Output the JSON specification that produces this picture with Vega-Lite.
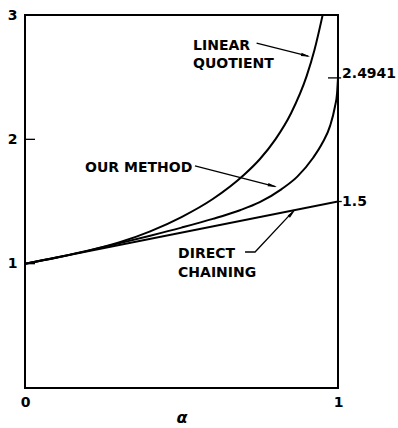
{
  "$schema": "https://vega.github.io/schema/vega-lite/v6.json",
  "autosize": "none",
  "width": 313,
  "height": 373,
  "padding": {"left": 25, "top": 15, "right": 60, "bottom": 40},
  "background": "white",
  "config": {
    "view": {"stroke": "black", "strokeWidth": 2},
    "axis": {"labelFont": "DejaVu Sans", "labelFontWeight": "bold", "labelFontSize": 14, "labelColor": "black", "titleColor": "black", "grid": false, "ticks": false, "domain": false}
  },
  "encoding": {
    "x": {"field": "a", "type": "quantitative", "scale": {"domain": [0, 1], "nice": false, "zero": false},
      "axis": {"values": [0, 1], "format": "d", "labelFlush": false, "labelPadding": 7, "title": "α", "titleFont": "DejaVu Sans", "titleFontStyle": "italic", "titleFontWeight": "bold", "titleFontSize": 16, "titlePadding": 0}},
    "y": {"field": "v", "type": "quantitative", "scale": {"domain": [0, 3], "nice": false},
      "axis": {"values": [1, 2, 3], "format": "d", "labelPadding": 8, "title": null}}
  },
  "layer": [
    {
      "data": {"values": [
        {"series": "LQ", "a": 0, "v": 1}, {"series": "LQ", "a": 0.1, "v": 1.048}, {"series": "LQ", "a": 0.2, "v": 1.103},
        {"series": "LQ", "a": 0.3, "v": 1.17}, {"series": "LQ", "a": 0.4, "v": 1.26}, {"series": "LQ", "a": 0.5, "v": 1.375},
        {"series": "LQ", "a": 0.6, "v": 1.52}, {"series": "LQ", "a": 0.7, "v": 1.715}, {"series": "LQ", "a": 0.75, "v": 1.84},
        {"series": "LQ", "a": 0.8, "v": 2.0}, {"series": "LQ", "a": 0.85, "v": 2.21}, {"series": "LQ", "a": 0.9, "v": 2.51},
        {"series": "LQ", "a": 0.925, "v": 2.72}, {"series": "LQ", "a": 0.951, "v": 3.0},
        {"series": "OM", "a": 0, "v": 1}, {"series": "OM", "a": 0.1, "v": 1.05}, {"series": "OM", "a": 0.2, "v": 1.105},
        {"series": "OM", "a": 0.3, "v": 1.163}, {"series": "OM", "a": 0.4, "v": 1.225}, {"series": "OM", "a": 0.5, "v": 1.29},
        {"series": "OM", "a": 0.6, "v": 1.36}, {"series": "OM", "a": 0.687, "v": 1.43}, {"series": "OM", "a": 0.75, "v": 1.495},
        {"series": "OM", "a": 0.82, "v": 1.6}, {"series": "OM", "a": 0.87, "v": 1.7}, {"series": "OM", "a": 0.92, "v": 1.85},
        {"series": "OM", "a": 0.95, "v": 1.97}, {"series": "OM", "a": 0.975, "v": 2.11}, {"series": "OM", "a": 0.99, "v": 2.26},
        {"series": "OM", "a": 0.997, "v": 2.37}, {"series": "OM", "a": 1.0, "v": 2.4941},
        {"series": "DC", "a": 0, "v": 1}, {"series": "DC", "a": 1, "v": 1.5}
      ]},
      "mark": {"type": "line", "color": "black", "strokeWidth": 2, "interpolate": "monotone", "clip": true},
      "encoding": {"detail": {"field": "series"}}
    },
    {
      "data": {"values": [
        {"id": "LQ", "o": 1, "a": 0.74, "v": 2.773}, {"id": "LQ", "o": 2, "a": 0.905, "v": 2.67},
        {"id": "OM", "o": 1, "a": 0.543, "v": 1.786}, {"id": "OM", "o": 2, "a": 0.8, "v": 1.62},
        {"id": "DC", "o": 1, "a": 0.703, "v": 1.094}, {"id": "DC", "o": 2, "a": 0.735, "v": 1.094}, {"id": "DC", "o": 3, "a": 0.858, "v": 1.425},
        {"id": "T1", "o": 1, "a": 0, "v": 1}, {"id": "T1", "o": 2, "a": 0.032, "v": 1},
        {"id": "T2", "o": 1, "a": 0, "v": 2}, {"id": "T2", "o": 2, "a": 0.032, "v": 2},
        {"id": "T3", "o": 1, "a": 0.968, "v": 2.4941}, {"id": "T3", "o": 2, "a": 1.01, "v": 2.4941},
        {"id": "T4", "o": 1, "a": 1.0, "v": 1.5}, {"id": "T4", "o": 2, "a": 1.012, "v": 1.5}
      ]},
      "mark": {"type": "line", "color": "black", "strokeWidth": 1.3, "clip": false},
      "encoding": {"detail": {"field": "id"}, "order": {"field": "o", "type": "quantitative"}}
    },
    {
      "data": {"values": [
        {"a": 0.911, "v": 2.665, "ang": 104},
        {"a": 0.805, "v": 1.617, "ang": 104.4},
        {"a": 0.863, "v": 1.432, "ang": 43.6}
      ]},
      "mark": {"type": "point", "shape": "M0,0L0.4,2.3L-0.4,2.3Z", "filled": true, "color": "black", "opacity": 1, "size": 64},
      "encoding": {"angle": {"field": "ang", "type": "quantitative", "scale": null}}
    },
    {
      "data": {"values": [
        {"label": "LINEAR", "a": 0.537, "v": 2.719},
        {"label": "QUOTIENT", "a": 0.537, "v": 2.574},
        {"label": "OUR METHOD", "a": 0.192, "v": 1.738},
        {"label": "DIRECT", "a": 0.489, "v": 1.046},
        {"label": "CHAINING", "a": 0.489, "v": 0.893}
      ]},
      "mark": {"type": "text", "align": "left", "baseline": "alphabetic", "font": "DejaVu Sans", "fontWeight": "bold", "fontSize": 14, "color": "black"},
      "encoding": {"text": {"field": "label"}}
    },
    {
      "data": {"values": [
        {"label": "2.4941", "a": 1.013, "v": 2.525},
        {"label": "1.5", "a": 1.013, "v": 1.5}
      ]},
      "mark": {"type": "text", "align": "left", "baseline": "middle", "font": "DejaVu Sans", "fontWeight": "bold", "fontSize": 14, "color": "black"},
      "encoding": {"text": {"field": "label"}}
    }
  ]
}
